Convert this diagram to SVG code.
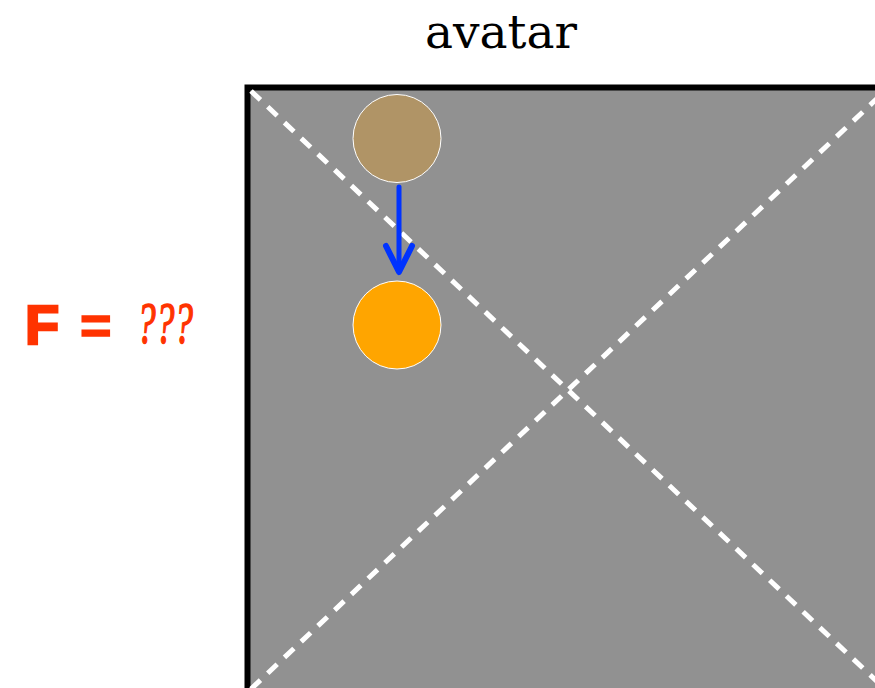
<svg xmlns="http://www.w3.org/2000/svg" width="875" height="688" viewBox="0 0 875 688">
  <style>
    .title { font-family: "DejaVu Serif", "Liberation Serif", serif; font-size: 47px; fill: #000; }
    .force { fill: #FF3300; stroke: #FF3300; }
    .diag { stroke: #fff; stroke-width: 5; stroke-dasharray: 13 10; fill: none; }
    .ball { stroke: #fff; stroke-width: 1; }
    .arrow { stroke: #0033FF; fill: none; stroke-linecap: round; stroke-linejoin: round; }
  </style>
  <rect width="875" height="688" fill="#fff"/>
  <text class="title" x="501" y="48" text-anchor="middle">avatar</text>
  <g id="equation">
    <text class="force" x="25" y="344" font-family="'Liberation Sans', Arial, sans-serif" font-weight="bold" font-size="56" stroke-width="2.5">F</text>
    <text class="force" x="80" y="344" font-family="'Liberation Sans', Arial, sans-serif" font-weight="bold" font-size="54" stroke-width="1.5">=</text>
    <text class="force" x="137" y="343" font-family="'Liberation Serif', serif" font-style="italic" font-size="60" stroke-width="1.5" textLength="56" lengthAdjust="spacingAndGlyphs">???</text>
  </g>
  <g id="avatar-box">
    <rect x="247.5" y="87.5" width="640" height="604" fill="#919191" stroke="#000" stroke-width="6"/>
    <line class="diag" x1="251" y1="91" x2="885" y2="689"/>
    <line class="diag" x1="251" y1="689" x2="885" y2="91"/>
  </g>
  <g id="ball-start">
    <circle class="ball" cx="397" cy="138.5" r="44" fill="#B09466"/>
  </g>
  <g id="ball-end">
    <circle class="ball" cx="397" cy="325" r="44" fill="#FFA500"/>
  </g>
  <g id="connectors">
    <line class="arrow" x1="399" y1="187" x2="399" y2="270" stroke-width="5" stroke-linecap="butt"/>
    <polyline class="arrow" points="386,246 399,272 412,246" stroke-width="6"/>
  </g>
</svg>
